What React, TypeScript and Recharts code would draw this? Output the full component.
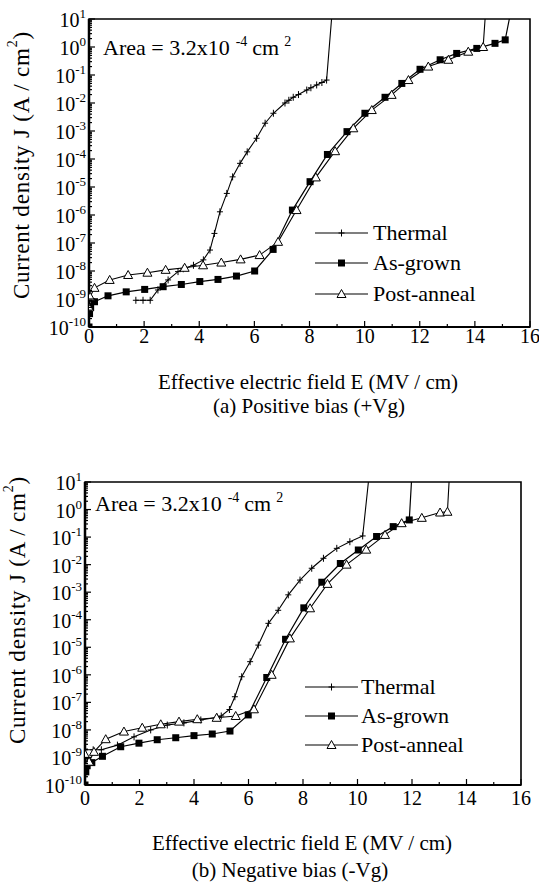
import React from 'react';
import { LineChart, Line, XAxis, YAxis, ReferenceArea } from 'recharts';

const FONT = '"Liberation Serif", "Times New Roman", serif';

// (a) positive bias
const thermalPosE = [1.7, 1.96, 2.22, 2.5, 2.87, 3.23, 3.42, 3.79, 4.15, 4.39, 4.55, 4.75, 5.0, 5.21, 5.48, 5.74, 6.08, 6.39, 6.69, 7.11, 7.25, 7.41, 7.6, 7.9, 8.05, 8.26, 8.45, 8.62, 8.8];
const thermalPosJ = [9e-10, 9e-10, 9e-10, 2.1e-9, 4.8e-9, 9.5e-9, 1.2e-8, 1.6e-8, 2.5e-8, 5.6e-8, 2.2e-7, 1.3e-6, 5.9e-6, 2.3e-5, 7e-5, 1.8e-4, 5.5e-4, 1.9e-3, 4.3e-3, 1.0e-2, 1.25e-2, 1.6e-2, 2.0e-2, 2.9e-2, 3.5e-2, 4.4e-2, 5.4e-2, 6.6e-2, 10];

const asGrownPosE = [0, 0.02, 0.06, 0.2, 0.69, 1.35, 2.02, 2.69, 3.35, 4.02, 4.68, 5.35, 6.01, 6.68, 7.38, 8.02, 8.65, 9.36, 10.01, 10.74, 11.35, 12.01, 12.74, 13.34, 14.07, 14.73, 15.1, 15.25];
const asGrownPosJ = [1e-10, 3e-10, 5e-10, 8e-10, 1.3e-9, 1.8e-9, 2.2e-9, 2.75e-9, 3.3e-9, 4.2e-9, 5e-9, 6.6e-9, 1.0e-8, 5.9e-8, 1.5e-6, 1.55e-5, 1.45e-4, 9.5e-4, 4.3e-3, 1.6e-2, 5e-2, 0.16, 0.35, 0.59, 0.89, 1.35, 1.8, 10];

const postAnnealPosE = [0, 0.04, 0.2, 0.75, 1.42, 2.12, 2.78, 3.47, 4.14, 4.8, 5.5, 6.19, 6.86, 7.53, 8.23, 8.93, 9.59, 10.26, 10.98, 11.59, 12.31, 13.04, 13.76, 14.3, 14.37];
const postAnnealPosJ = [5e-10, 1.2e-9, 2.5e-9, 4.8e-9, 7.2e-9, 8.7e-9, 1.1e-8, 1.3e-8, 1.6e-8, 2.0e-8, 2.6e-8, 3.7e-8, 1.1e-7, 1.5e-6, 2.2e-5, 1.9e-4, 1.25e-3, 5.6e-3, 1.95e-2, 6.6e-2, 0.2, 0.35, 0.68, 1.0, 10];

// (b) negative bias
const thermalNegE = [0, 0.3, 0.6, 1.19, 1.8, 2.41, 3.02, 3.63, 4.25, 4.86, 5.0, 5.3, 5.5, 5.75, 6.06, 6.36, 6.73, 7.09, 7.46, 7.89, 8.32, 8.75, 9.24, 9.72, 10.19, 10.4];
const thermalNegJ = [1.9e-9, 1.9e-9, 1.9e-9, 2.8e-9, 5.6e-9, 1e-8, 1.5e-8, 1.8e-8, 2.3e-8, 2.9e-8, 3.2e-8, 5.5e-8, 1.6e-7, 8.5e-7, 3e-6, 1.2e-5, 7.4e-5, 2.2e-4, 8e-4, 2.75e-3, 7.4e-3, 1.7e-2, 3.9e-2, 6.8e-2, 0.11, 10];

const asGrownNegE = [0, 0.03, 0.08, 0.25, 0.64, 1.31, 1.98, 2.65, 3.33, 4.0, 4.67, 5.32, 5.99, 6.67, 7.36, 8.03, 8.69, 9.37, 10.03, 10.7, 11.31, 11.9, 11.98];
const asGrownNegJ = [1e-10, 3e-10, 5e-10, 6.5e-10, 1.1e-9, 2.45e-9, 3.3e-9, 4.4e-9, 5.2e-9, 6.2e-9, 7.1e-9, 9.1e-9, 3.5e-8, 8e-7, 1.95e-5, 2.7e-4, 2.3e-3, 1.1e-2, 3.4e-2, 0.105, 0.24, 0.42, 10];

const postAnnealNegE = [0, 0.15, 0.33, 0.76, 1.43, 2.1, 2.78, 3.45, 4.12, 4.83, 5.53, 6.2, 6.85, 7.52, 8.26, 8.9, 9.6, 10.32, 11.01, 11.62, 12.36, 13.03, 13.3, 13.36];
const postAnnealNegJ = [1.3e-9, 7e-10, 1.6e-9, 4.6e-9, 8.7e-9, 1.2e-8, 1.6e-8, 2e-8, 2.45e-8, 2.75e-8, 3.2e-8, 5.6e-8, 1e-6, 2.1e-5, 2.6e-4, 2e-3, 1e-2, 3.5e-2, 0.12, 0.32, 0.5, 0.78, 0.83, 10];

// axes
const decadeExp = [-10, -9, -8, -7, -6, -5, -4, -3, -2, -1, 0, 1];
const xTicks = [0, 1, 2, 3, 4, 5, 6, 7, 8, 9, 10, 11, 12, 13, 14, 15, 16];
const minorMult = [2, 3, 4, 5, 6, 7, 8, 9];

const yMajor = decadeExp.map(p => Math.pow(10, p));
const yTicks = [
    ...yMajor,
    ...decadeExp.slice(0, -1).flatMap(p => minorMult.map(m => m * Math.pow(10, p)))
].sort((a, b) => a - b);

const zip = (e: number[], j: number[]) => e.map((x, i) => ({ e: x, j: j[i] }));

const plusDot = (p: any) => {
    const { cx, cy, payload, index } = p;
    if (payload.j >= 10) return <g key={`p${index}`} />;
    return <path key={`p${index}`} d={`M${cx - 3},${cy}H${cx + 3}M${cx},${cy - 3.5}V${cy + 3.5}`} stroke="#000" strokeWidth={1} />;
};
const squareDot = (p: any) => {
    const { cx, cy, payload, index } = p;
    if (payload.j >= 10) return <g key={`s${index}`} />;
    return <rect key={`s${index}`} x={cx - 3.5} y={cy - 3.5} width={7} height={7} fill="#000" />;
};
const triDot = (p: any) => {
    const { cx, cy, payload, index } = p;
    if (payload.j >= 10) return <g key={`t${index}`} />;
    return <path key={`t${index}`} d={`M${cx},${cy - 4.5}L${cx - 4.5},${cy + 3.5}L${cx + 4.5},${cy + 3.5}Z`} fill="#fff" stroke="#000" strokeWidth={1} />;
};

const YTick = (props: any) => {
    const { x, y, payload } = props;
    const lg = Math.log10(payload.value);
    const exp = Math.round(lg);
    const major = Math.abs(lg - exp) < 1e-6;
    return (
        <g>
            <line x1={x} x2={x + (major ? 6 : 3)} y1={y} y2={y} stroke="#000" strokeWidth={1.2} />
            {major && (
                <text x={x - 3} y={y + 8} textAnchor="end" fontFamily={FONT} fontSize={20} fill="#000">
                    10<tspan fontSize={13} dy={-9}>{exp}</tspan>
                </text>
            )}
        </g>
    );
};

const RightTick = (props: any) => {
    const { x, y } = props;
    return <line x1={x} x2={x - 5} y1={y} y2={y} stroke="#000" strokeWidth={1} />;
};

const makeXTick = (offset: number) => (props: any) => {
    const { x, y, payload } = props;
    const major = payload.value % 2 === 0;
    return (
        <g>
            <line x1={x} x2={x} y1={y} y2={y - (major ? 6 : 3)} stroke="#000" strokeWidth={1.2} />
            {major && (
                <text x={x} y={y + offset} textAnchor="middle" fontFamily={FONT} fontSize={20} fill="#000">
                    {payload.value}
                </text>
            )}
        </g>
    );
};

interface PanelProps {
    top: number;
    left: number;
    right: number;
    plotHeight: number;
    labelOffset: number;
    thermal: { e: number; j: number }[];
    asGrown: { e: number; j: number }[];
    postAnneal: { e: number; j: number }[];
}

const Panel: React.FC<PanelProps> = ({ top, left, right, plotHeight, labelOffset, thermal, asGrown, postAnneal }) => (
    <div style={{ position: 'absolute', left: 0, top }}>
        <LineChart width={539} height={19 + plotHeight + 24} margin={{ top: 19, right: 539 - right, bottom: 0, left: 0 }}>
            <XAxis
                dataKey="e"
                type="number"
                domain={[0, 16]}
                ticks={xTicks}
                interval={0}
                height={24}
                tickSize={0}
                tickMargin={0}
                tickLine={false}
                axisLine={{ stroke: '#000', strokeWidth: 2 }}
                tick={makeXTick(labelOffset)}
                allowDataOverflow
            />
            <YAxis
                type="number"
                scale="log"
                domain={[1e-10, 10]}
                ticks={yTicks}
                interval={0}
                width={left}
                tickSize={0}
                tickMargin={0}
                tickLine={false}
                axisLine={{ stroke: '#000', strokeWidth: 2.5 }}
                tick={<YTick />}
                allowDataOverflow
            />
            <YAxis
                yAxisId="r"
                orientation="right"
                type="number"
                scale="log"
                domain={[1e-10, 10]}
                ticks={yMajor}
                interval={0}
                width={0}
                tickSize={0}
                tickMargin={0}
                tickLine={false}
                axisLine={false}
                tick={<RightTick />}
                allowDataOverflow
            />
            <ReferenceArea x1={0} x2={16} y1={1e-10} y2={10} fill="none" stroke="#000" strokeWidth={1.6} />
            <Line data={thermal} dataKey="j" type="linear" stroke="#000" strokeWidth={1.1} dot={plusDot} isAnimationActive={false} />
            <Line data={asGrown} dataKey="j" type="linear" stroke="#000" strokeWidth={1.2} dot={squareDot} isAnimationActive={false} />
            <Line data={postAnneal} dataKey="j" type="linear" stroke="#000" strokeWidth={1.1} dot={triDot} isAnimationActive={false} />
        </LineChart>
    </div>
);

const LegendRows: React.FC<{ x1: number; x2: number; tx: number; ys: number[] }> = ({ x1, x2, tx, ys }) => {
    const names = ['Thermal', 'As-grown', 'Post-anneal'];
    const dots = [plusDot, squareDot, triDot];
    const cx = (x1 + x2) / 2;
    return (
        <g>
            {names.map((n, i) => (
                <g key={n}>
                    <line x1={x1} x2={x2} y1={ys[i]} y2={ys[i]} stroke="#000" strokeWidth={1.2} />
                    {dots[i]({ cx, cy: ys[i], payload: { j: 1 }, index: i })}
                    <text x={tx} y={ys[i] + 7} fontFamily={FONT} fontSize={22} fill="#000">{n}</text>
                </g>
            ))}
        </g>
    );
};

const YTitle: React.FC<{ x: number; y: number }> = ({ x, y }) => (
    <text transform={`translate(${x},${y}) rotate(-90)`} textAnchor="middle" dominantBaseline="central"
        fontFamily={FONT} fontSize={23} letterSpacing={0.8} fill="#000">
        Current density J (A / cm<tspan fontSize={14} dy={-9}>2</tspan><tspan dy={9}>)</tspan>
    </text>
);

const AreaNote: React.FC<{ x: number; y: number }> = ({ x, y }) => (
    <text x={x} y={y} fontFamily={FONT} fontSize={22} fill="#000">
        Area = 3.2x10<tspan fontSize={14} dx={6} dy={-9}>-4</tspan>
        <tspan dx={5} dy={9}>cm</tspan>
        <tspan fontSize={14} dx={5} dy={-9}>2</tspan>
    </text>
);

export default function App() {
    return (
        <div style={{ position: 'absolute', left: 0, top: 0, width: 539, height: 883, background: '#fff' }}>
            <Panel top={0} left={89} right={530} plotHeight={308} labelOffset={16}
                thermal={zip(thermalPosE, thermalPosJ)} asGrown={zip(asGrownPosE, asGrownPosJ)} postAnneal={zip(postAnnealPosE, postAnnealPosJ)} />
            <Panel top={463} left={85} right={521} plotHeight={303} labelOffset={20}
                thermal={zip(thermalNegE, thermalNegJ)} asGrown={zip(asGrownNegE, asGrownNegJ)} postAnneal={zip(postAnnealNegE, postAnnealNegJ)} />
            <svg width={539} height={883} style={{ position: 'absolute', left: 0, top: 0, pointerEvents: 'none' }}>
                <AreaNote x={103} y={55} />
                <AreaNote x={95} y={511} />
                <LegendRows x1={315} x2={368} tx={373} ys={[233, 263, 294]} />
                <LegendRows x1={305} x2={358} tx={361} ys={[687, 716, 745]} />
                <YTitle x={21} y={165} />
                <YTitle x={17} y={610} />
                <text x={308} y={389} textAnchor="middle" fontFamily={FONT} fontSize={21} fill="#000">Effective electric field E (MV / cm)</text>
                <text x={309} y={413} textAnchor="middle" fontFamily={FONT} fontSize={21} fill="#000">(a)  Positive bias (+Vg)</text>
                <text x={302} y={850} textAnchor="middle" fontFamily={FONT} fontSize={21} fill="#000">Effective electric field E (MV / cm)</text>
                <text x={290} y={877} textAnchor="middle" fontFamily={FONT} fontSize={21} fill="#000">(b) Negative bias (-Vg)</text>
            </svg>
        </div>
    );
}
